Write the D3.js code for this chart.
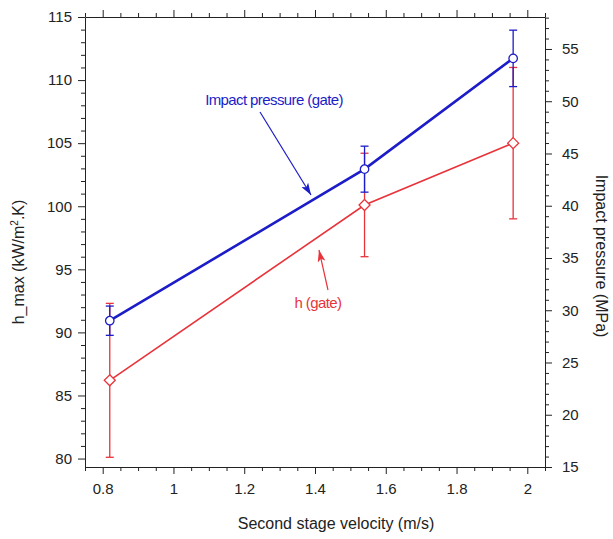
<!DOCTYPE html>
<html>
<head>
<meta charset="UTF-8">
<title>h_max and impact pressure</title>
<style>
  body { margin: 0; background: #fff; }
  svg text { font-family: "Liberation Sans", Arial, sans-serif; }
  .axis path, .axis line { stroke: #222; }
  .axis text { font-size: 15px; fill: #222; }
</style>
</head>
<body>
<svg id="chart" width="613" height="539"></svg>
<script src="https://cdnjs.cloudflare.com/ajax/libs/d3/7.8.5/d3.min.js"></script>
<script>
// data
const velocity = [0.82, 1.54, 1.96];
const hGate = [86.2, 100.1, 105.0];
const hGateErr = [6.1, 4.1, 6.0];
const pressureGate = [29.0, 43.5, 54.1];
const pressureGateErr = [1.4, 2.2, 2.7];

const xTicks = [0.8, 1, 1.2, 1.4, 1.6, 1.8, 2];
const leftTicks = [80, 85, 90, 95, 100, 105, 110, 115];
const rightTicks = [15, 20, 25, 30, 35, 40, 45, 50, 55];

const svg = d3.select('#chart'),
    width = +svg.attr('width'),
    height = +svg.attr('height');
const margin = { top: 17, right: 68, bottom: 72, left: 85 };
const w = width - margin.left - margin.right,
    h = height - margin.top - margin.bottom;

const x = d3.scaleLinear().domain([0.75, 2.05]).range([0, w]);
const yL = d3.scaleLinear().domain([79.33, 115]).range([h, 0]);
const yR = d3.scaleLinear().domain([15, 58.06]).range([h, 0]);

const g = svg.append('g').attr('transform', 'translate(' + margin.left + ',' + margin.top + ')');

// minor tick values
const xMinor = d3.range(0.75, 2.051, 0.05).map(v => +v.toFixed(2)).filter(v => xTicks.indexOf(v) < 0);
const lMinor = d3.range(80, 116, 1).filter(v => v % 5 !== 0);
const rMinor = d3.range(15, 59, 1).filter(v => v % 5 !== 0);

function addAxis(axisFn, scale, major, minor, transform, labels) {
    const a = g.append('g').attr('class', 'axis').attr('transform', transform);
    a.call(axisFn(scale).tickValues(major).tickSizeInner(7).tickSizeOuter(0)
        .tickPadding(labels ? 6 : 0).tickFormat(labels ? d3.format('') : ''));
    const m = g.append('g').attr('class', 'axis').attr('transform', transform);
    m.call(axisFn(scale).tickValues(minor).tickSizeInner(4).tickSizeOuter(0).tickFormat(''));
    m.select('.domain').remove();
    return a;
}

const xb = addAxis(d3.axisBottom, x, xTicks, xMinor, 'translate(0,' + h + ')', true);
xb.selectAll('text').attr('dy', '0.95em');
addAxis(d3.axisTop, x, xTicks, xMinor, 'translate(0,0)', false);
addAxis(d3.axisLeft, yL, leftTicks, lMinor, 'translate(0,0)', true);
const yr = addAxis(d3.axisRight, yR, rightTicks, rMinor, 'translate(' + w + ',0)', true);
yr.selectAll('text').attr('x', 17);

// axis titles
svg.append('text')
    .attr('transform', 'translate(' + 24 + ',' + 262 + ') rotate(-90)')
    .attr('text-anchor', 'middle')
    .style('font-size', '16px').attr('fill', '#222')
    .html('h_max (kW/m<tspan dy="-6" font-size="10px">2</tspan><tspan dy="6">.K)</tspan>');

svg.append('text')
    .attr('transform', 'translate(' + 596 + ',' + 256 + ') rotate(90)')
    .attr('text-anchor', 'middle')
    .style('font-size', '16px').attr('fill', '#222')
    .text('Impact pressure (MPa)');

svg.append('text')
    .attr('x', 336).attr('y', 529)
    .attr('text-anchor', 'middle')
    .style('font-size', '16px').attr('fill', '#222')
    .text('Second stage velocity (m/s)');

const RED = '#e8333a', BLUE = '#1c1cc8';

function drawSeries(vals, errs, yScale, color, lineW, marker) {
    const pts = velocity.map((v, i) => ({ x: v, y: vals[i], e: errs[i] }));
    const eb = g.append('g').attr('stroke', color).attr('stroke-width', 1.3);
    pts.forEach(p => {
        const cx = x(p.x), top = yScale(p.y + p.e), bot = yScale(p.y - p.e);
        eb.append('line').attr('x1', cx).attr('x2', cx).attr('y1', top).attr('y2', bot);
        eb.append('line').attr('x1', cx - 4).attr('x2', cx + 4).attr('y1', top).attr('y2', top);
        eb.append('line').attr('x1', cx - 4).attr('x2', cx + 4).attr('y1', bot).attr('y2', bot);
    });
    g.append('path')
        .datum(pts)
        .attr('fill', 'none')
        .attr('stroke', color)
        .attr('stroke-width', lineW)
        .attr('d', d3.line().x(d => x(d.x)).y(d => yScale(d.y)));
    g.selectAll(null)
        .data(pts)
        .enter()
        .append('path')
        .attr('transform', d => 'translate(' + x(d.x) + ',' + yScale(d.y) + ')')
        .attr('d', marker === 'circle'
            ? d3.symbol().type(d3.symbolCircle).size(56)()
            : 'M0,-5.5L5.5,0L0,5.5L-5.5,0Z')
        .attr('fill', '#fff')
        .attr('stroke', color)
        .attr('stroke-width', 1.3);
}

drawSeries(hGate, hGateErr, yL, RED, 1.6, 'diamond');
drawSeries(pressureGate, pressureGateErr, yR, BLUE, 2.6, 'circle');

// annotations
const defs = svg.append('defs');
[['arrBlue', BLUE], ['arrRed', RED]].forEach(a => {
    defs.append('marker')
        .attr('id', a[0])
        .attr('viewBox', '0 0 12 8')
        .attr('refX', 12).attr('refY', 4)
        .attr('markerWidth', 12).attr('markerHeight', 8)
        .attr('markerUnits', 'userSpaceOnUse')
        .attr('orient', 'auto')
        .append('path')
        .attr('d', 'M0,0 L12,4 L0,8 L3,4 Z')
        .attr('fill', a[1]);
});

svg.append('text')
    .attr('x', 274).attr('y', 105)
    .attr('text-anchor', 'middle')
    .attr('fill', BLUE)
    .style('font-size', '15px')
    .style('letter-spacing', '-0.6px')
    .text('Impact pressure (gate)');
svg.append('line')
    .attr('x1', 260).attr('y1', 112).attr('x2', 311).attr('y2', 195)
    .attr('stroke', BLUE).attr('stroke-width', 1.2)
    .attr('marker-end', 'url(#arrBlue)');

svg.append('text')
    .attr('x', 318).attr('y', 308)
    .attr('text-anchor', 'middle')
    .attr('fill', RED)
    .style('font-size', '15px')
    .style('letter-spacing', '-0.6px')
    .text('h (gate)');
svg.append('line')
    .attr('x1', 328).attr('y1', 290).attr('x2', 319).attr('y2', 250)
    .attr('stroke', RED).attr('stroke-width', 1.2)
    .attr('marker-end', 'url(#arrRed)');
</script>
</body>
</html>
